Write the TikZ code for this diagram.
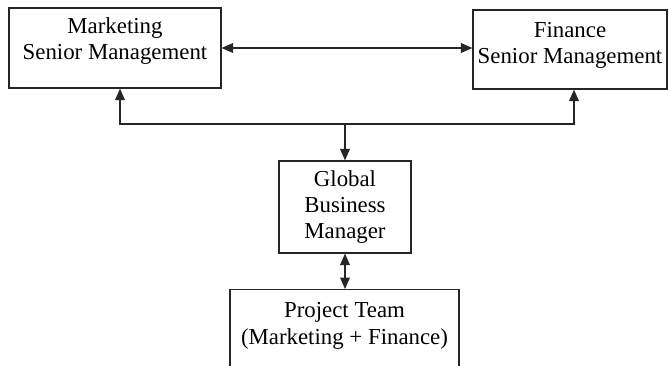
\documentclass[tikz,border=0pt]{standalone}
\usepackage{fontspec}
\setmainfont{Liberation Serif}
\usetikzlibrary{arrows.meta, positioning}

\begin{document}
\begin{tikzpicture}[
    x=0.02cm, y=-0.02cm,
    box/.style={rectangle, draw=black!85, line width=0.7pt, fill=white, align=center, inner sep=0pt, font=\fontsize{13}{15}\selectfont},
    arrow/.style={-{Triangle[length=6.5pt, width=5.5pt]}, line width=0.7pt, draw=black!85},
    biarrow/.style={{Triangle[length=6.5pt, width=5.5pt]}-{Triangle[length=6.5pt, width=5.5pt]}, line width=0.7pt, draw=black!85}
]
\clip (0,0) rectangle (669,365);

% senior management
\node[box, minimum width=4.24cm, minimum height=1.6cm, text depth=0.38cm] (mkt) at (115,48) {Marketing\\Senior Management};
\node[box, minimum width=3.88cm, minimum height=1.58cm, text depth=0.25cm] (fin) at (570,49.5) {Finance\\Senior Management};

% manager
\node[box, minimum width=2.64cm, minimum height=1.84cm] (gbm) at (345,207) {Global\\Business\\Manager};

% team (runs past the lower edge)
\node[box, minimum width=4.58cm, inner ysep=0.26cm, text depth=2cm, anchor=north] (team) at (344.5,289) {Project Team\\(Marketing + Finance)};

% connectors
\coordinate (bus) at (345,124);
\draw[biarrow] (mkt.east) -- (mkt.east -| fin.west);
\draw[biarrow] ([xshift=0.1cm]mkt.south) |- (bus) -| ([xshift=0.08cm]fin.south);
\draw[arrow] (bus) -- (gbm.north);
\draw[biarrow] (gbm.south) -- (gbm.south |- team.north);
\end{tikzpicture}
\end{document}
